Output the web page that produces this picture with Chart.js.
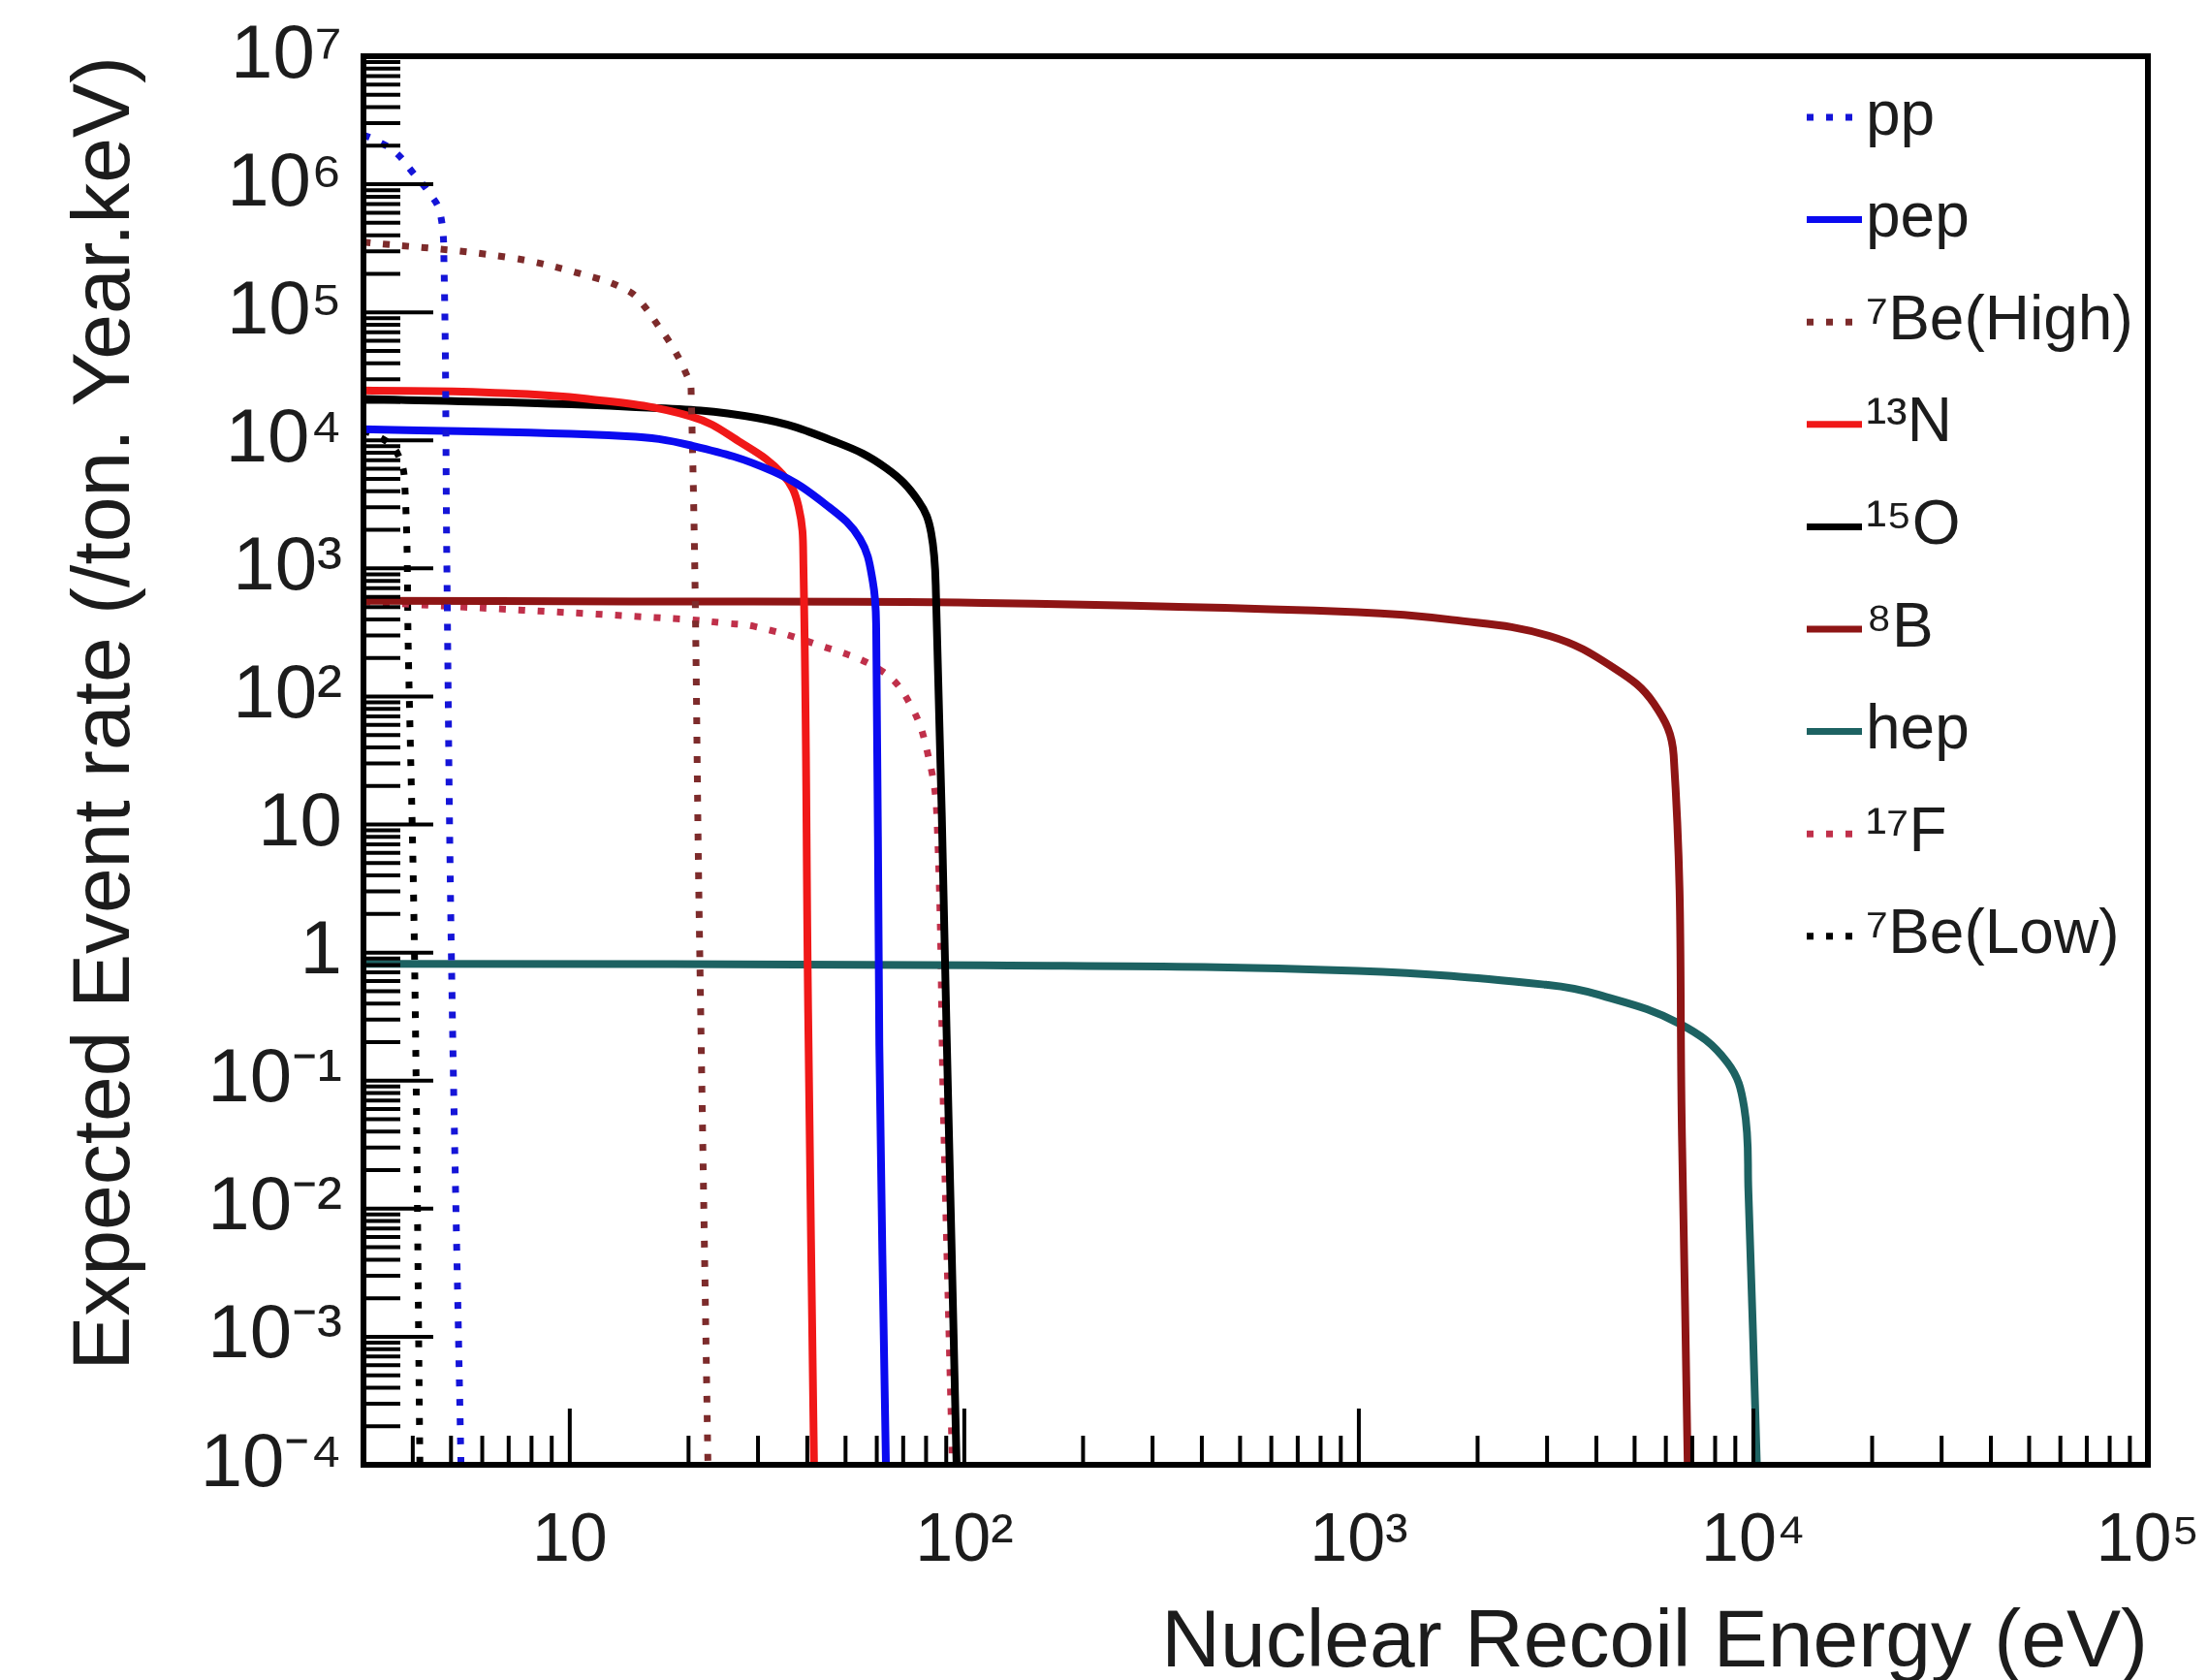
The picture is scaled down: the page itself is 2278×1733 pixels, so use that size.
<!DOCTYPE html>
<html lang="en">
  <head>
    <meta charset="UTF-8" />
    <title>Expected event rate vs nuclear recoil energy</title>
    <style>
      * {
        margin: 0;
        padding: 0;
        box-sizing: border-box;
      }
      body {
        background-color: #ffffff;
      }
      canvas {
        display: block;
      }
    </style>
  </head>
  <body>
    <canvas id="chart" width="2278" height="1733"></canvas>

    <script src="https://cdn.jsdelivr.net/npm/chart.js"></script>
    <script>
      // tick values and labels
      const xTickValues = [10, 100, 1000, 10000, 100000];
      const xTickLabels = ["10", "10²", "10³", "10⁴", "10⁵"];
      const yTickValues = [1e-4, 1e-3, 1e-2, 1e-1, 1, 10, 1e2, 1e3, 1e4, 1e5, 1e6, 1e7];
      const yTickLabels = ["10⁻⁴", "10⁻³", "10⁻²", "10⁻¹", "1", "10", "10²", "10³", "10⁴", "10⁵", "10⁶", "10⁷"];

      // series names (legend order)
      const seriesNames = ["pp", "pep", "⁷Be(High)", "¹³N", "¹⁵O", "⁸B", "hep", "¹⁷F", "⁷Be(Low)"];

      // recoil energy (eV) and rate (/ton.year.keV)
      const ppEnergy = [3, 3.18, 3.6, 4.01, 4.4, 4.69, 4.8, 4.88, 5.01, 5.3];
      const ppRate = [2.43e6, 2.25e6, 1.8e6, 1.225e6, 8.6e5, 6.03e5, 2.37e5, 1100, 1, 1e-4];

      const pepEnergy = [3, 13.9, 20.3, 32.7, 45.2, 54.4, 58.6, 59.8, 60.9, 63.3];
      const pepRate = [12250, 10790, 9130, 5730, 3045, 1700, 796, 337, 0.19, 1e-4];

      const be7HighEnergy = [3, 7.02, 11.6, 13.9, 14.97, 16.8, 18.25, 19.6, 20.3, 21.3, 22.4];
      const be7HighRate = [3.54e5, 2.68e5, 1.86e5, 1.5e5, 1.256e5, 7.77e4, 5.31e4, 3.47e4, 2.49e4, 1.62, 1e-4];

      const n13Energy = [3, 6.25, 11.1, 20.3, 27.1, 34.6, 38.0, 39.1, 40.2, 41.6];
      const n13Rate = [24500, 23650, 21100, 15380, 9630, 5450, 3045, 1080, 0.34, 1e-4];

      const o15Energy = [3, 13.95, 29.7, 47.7, 63.3, 76.5, 82.4, 84.8, 90.2, 95.6];
      const o15Rate = [21040, 18370, 15000, 9600, 6090, 3370, 1900, 595, 0.23, 1e-4];

      const b8Energy = [3, 14.3, 111.8, 992, 1722, 3041, 4443, 5596, 6280, 6600, 6817];
      const b8Rate = [558, 552, 537, 456, 397, 297, 166, 88, 34.6, 0.03, 1e-4];

      const hepEnergy = [3, 111.8, 992, 3016, 4057, 6490, 8587, 9478, 9716, 10207];
      const hepRate = [0.817, 0.796, 0.72, 0.559, 0.468, 0.279, 0.139, 0.0618, 0.01355, 1e-4];

      const f17Energy = [3, 19.3, 24.9, 29.2, 41.3, 61.8, 73.4, 81.0, 85.2, 88.7, 93.3];
      const f17Rate = [550, 402, 373, 354, 261, 158, 83.8, 34.6, 11.6, 0.0445, 1e-4];

      const be7LowEnergy = [3, 3.4, 3.65, 3.81, 3.9, 4.04, 4.17];
      const be7LowRate = [1.2e4, 1.0e4, 8000, 5000, 200, 1, 1e-4];

      const seriesEnergy = [ppEnergy, pepEnergy, be7HighEnergy, n13Energy, o15Energy, b8Energy, hepEnergy, f17Energy, be7LowEnergy];
      const seriesRate = [ppRate, pepRate, be7HighRate, n13Rate, o15Rate, b8Rate, hepRate, f17Rate, be7LowRate];

      const seriesColors = ["#1414d8", "#0a0af0", "#7d2b2b", "#f01818", "#000000", "#8e1515", "#1d6262", "#c0304a", "#000000"];
      const seriesDotted = [true, false, true, false, false, false, false, true, true];

      const font = "'Liberation Sans', Arial, sans-serif";
      const textColor = "#1c1c1c";

      const datasets = seriesNames.map((name, i) => ({
        label: name,
        data: seriesEnergy[i].map((e, j) => ({ x: e, y: seriesRate[i][j] })),
        borderColor: seriesColors[i],
        borderWidth: seriesDotted[i] ? 7 : 8,
        borderDash: seriesDotted[i] ? [7, 13] : [],
        borderCapStyle: "butt",
        borderJoinStyle: "round",
        fill: false,
        pointRadius: 0,
        tension: 0.4,
      }));

      // ROOT style frame with inward ticks
      const frameTicks = {
        id: "frameTicks",
        afterDatasetsDraw(chart) {
          const { ctx, chartArea: a, scales } = chart;
          const x = scales.x;
          const y = scales.y;
          ctx.save();
          ctx.strokeStyle = "#000";
          ctx.setLineDash([]);

          ctx.lineWidth = 4;
          for (let p = -4; p <= 6; p++) {
            for (let m = 1; m <= 9; m++) {
              const v = m * Math.pow(10, p);
              const py = y.getPixelForValue(v);
              const len = m === 1 ? 72 : 38;
              ctx.beginPath();
              ctx.moveTo(a.left, py);
              ctx.lineTo(a.left + len, py);
              ctx.stroke();
            }
          }

          for (let p = 0; p <= 4; p++) {
            for (let m = 1; m <= 9; m++) {
              const v = m * Math.pow(10, p);
              if (v < 3) continue;
              const px = x.getPixelForValue(v);
              const len = m === 1 ? 58 : 30;
              ctx.beginPath();
              ctx.moveTo(px, a.bottom);
              ctx.lineTo(px, a.bottom - len);
              ctx.stroke();
            }
          }

          ctx.lineWidth = 6;
          ctx.strokeRect(a.left, a.top, a.right - a.left, a.bottom - a.top);
          ctx.restore();
        },
      };

      // legend drawn inside the frame, top right
      const insideLegend = {
        id: "insideLegend",
        afterDraw(chart) {
          const { ctx, chartArea: a } = chart;
          ctx.save();
          chart.data.datasets.forEach((ds, i) => {
            const yy = a.top + 63 + i * 105.6;
            const x0 = a.right - 352;
            ctx.strokeStyle = ds.borderColor;
            ctx.lineWidth = 7;
            ctx.setLineDash(ds.borderDash);
            ctx.beginPath();
            ctx.moveTo(x0, yy);
            ctx.lineTo(x0 + 57, yy);
            ctx.stroke();
            ctx.setLineDash([]);
            ctx.fillStyle = textColor;
            ctx.font = "64px " + font;
            ctx.textBaseline = "middle";
            ctx.fillText(ds.label, x0 + 61, yy);
          });
          ctx.restore();
        },
      };

      const chart = new Chart(document.getElementById("chart").getContext("2d"), {
        type: "line",
        data: { datasets: datasets },
        options: {
          responsive: false,
          animation: false,
          devicePixelRatio: 1,
          layout: { padding: { left: 0, top: 58, right: 62, bottom: 0 } },
          plugins: {
            legend: { display: false },
            tooltip: { enabled: false },
          },
          scales: {
            x: {
              type: "logarithmic",
              min: 3,
              max: 1e5,
              afterBuildTicks: (s) => {
                s.ticks = xTickValues.map((v) => ({ value: v }));
              },
              afterFit: (s) => {
                s.height = 222;
                s.paddingLeft = 0;
                s.paddingRight = 0;
              },
              grid: { display: false, drawTicks: false },
              border: { display: false },
              ticks: {
                autoSkip: false,
                maxRotation: 0,
                padding: 38,
                color: textColor,
                font: { family: font, size: 70 },
                callback: (v, i) => xTickLabels[i],
              },
              title: {
                display: true,
                text: "Nuclear Recoil Energy (eV)",
                align: "end",
                color: textColor,
                font: { family: font, size: 84, lineHeight: 0.88 },
                padding: { top: 0, bottom: 0 },
              },
            },
            y: {
              type: "logarithmic",
              min: 1e-4,
              max: 1e7,
              afterBuildTicks: (s) => {
                s.ticks = yTickValues.map((v) => ({ value: v }));
              },
              afterFit: (s) => {
                s.width = 375;
                s.paddingTop = 0;
                s.paddingBottom = 0;
              },
              grid: { display: false, drawTicks: false },
              border: { display: false },
              ticks: {
                autoSkip: false,
                padding: 22,
                color: textColor,
                font: { family: font, size: 78 },
                callback: (v, i) => yTickLabels[i],
              },
              title: {
                display: true,
                text: "Expected Event rate (/ton. Year.keV)",
                align: "end",
                color: textColor,
                font: { family: font, size: 84, lineHeight: 1.2 },
                padding: { top: 59, bottom: 0 },
              },
            },
          },
        },
        plugins: [frameTicks, insideLegend],
      });
    </script>
  </body>
</html>
